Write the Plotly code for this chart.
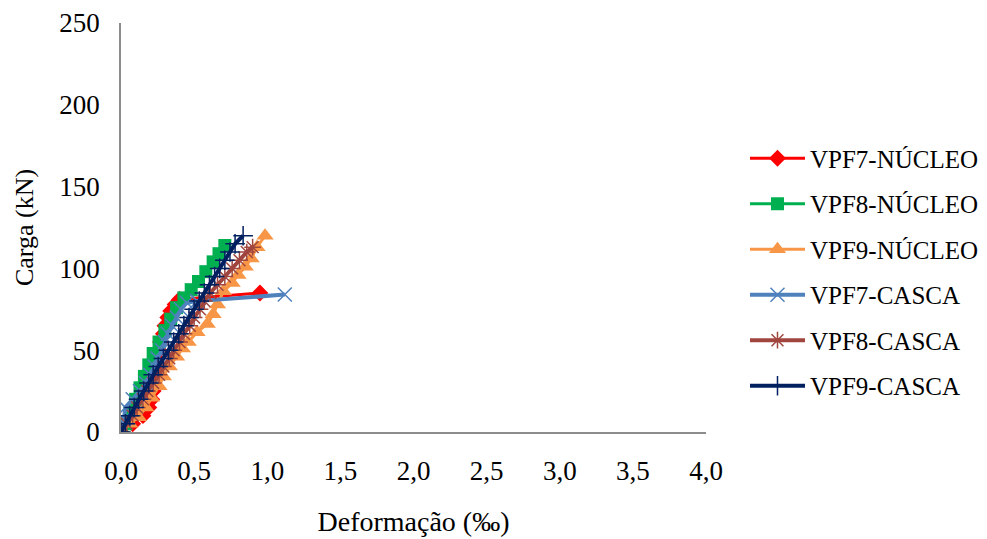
import plotly.graph_objects as go

# ---- data ----
series_names = ["VPF7-NÚCLEO", "VPF8-NÚCLEO", "VPF9-NÚCLEO",
                "VPF7-CASCA", "VPF8-CASCA", "VPF9-CASCA"]

vpf7_nucleo_x = [0, 0.08, 0.15, 0.19, 0.21, 0.22, 0.22, 0.22, 0.23, 0.24, 0.26, 0.27,
                 0.29, 0.30, 0.32, 0.34, 0.37, 0.40, 0.95]
vpf7_nucleo_y = [0, 5, 10, 15, 20, 25, 30, 35, 40, 45, 50, 55, 60, 65, 70, 74, 78, 81, 85]

vpf8_nucleo_x = [0, 0.03, 0.06, 0.10, 0.13, 0.16, 0.19, 0.22, 0.26, 0.30, 0.34, 0.38,
                 0.43, 0.48, 0.53, 0.58, 0.63, 0.67, 0.71]
vpf8_nucleo_y = [0, 5, 12, 20, 27, 34, 41, 48, 55, 62, 69, 76, 82, 87, 92, 98, 104, 109, 114]

vpf9_nucleo_x = [0, 0.06, 0.12, 0.17, 0.21, 0.26, 0.29, 0.33, 0.38, 0.42, 0.46, 0.52,
                 0.59, 0.63, 0.66, 0.70, 0.76, 0.80, 0.85, 0.89, 0.93, 0.985]
vpf9_nucleo_y = [0, 5, 9, 15, 21, 28, 34, 40, 46, 51, 55, 61, 66, 72, 78, 86, 91, 96,
                 101, 106, 113, 120]

vpf7_casca_x = [0, 0.02, 0.03, 0.08, 0.13, 0.17, 0.20, 0.23, 0.25, 0.28, 0.30, 0.32,
                0.35, 0.38, 0.41, 0.45, 0.52, 1.12]
vpf7_casca_y = [0, 8, 15, 20, 25, 30, 35, 40, 45, 50, 55, 60, 65, 70, 75, 79, 80, 84]

vpf8_casca_x = [0, 0.04, 0.08, 0.11, 0.15, 0.18, 0.22, 0.26, 0.29, 0.33, 0.36, 0.40,
                0.43, 0.47, 0.50, 0.54, 0.57, 0.61, 0.66, 0.71, 0.76, 0.81, 0.86, 0.90]
vpf8_casca_y = [0, 5, 10, 15, 20, 25, 30, 35, 40, 45, 50, 55, 60, 65, 70, 75, 80, 85,
                90, 95, 100, 105, 110, 113]

vpf9_casca_x = [0, 0.03, 0.06, 0.09, 0.12, 0.155, 0.19, 0.22, 0.255, 0.29, 0.325, 0.36,
                0.395, 0.43, 0.465, 0.50, 0.535, 0.57, 0.605, 0.64, 0.675, 0.71, 0.745,
                0.78, 0.835]
vpf9_casca_y = [0, 5, 10, 15, 20, 25, 30, 35, 40, 45, 50, 55, 60, 65, 70, 75, 80, 85,
                90, 95, 100, 105, 110, 115, 120]

x_tick_vals = [0, 0.5, 1, 1.5, 2, 2.5, 3, 3.5, 4]
x_tick_text = ["0,0", "0,5", "1,0", "1,5", "2,0", "2,5", "3,0", "3,5", "4,0"]
y_tick_vals = [0, 50, 100, 150, 200, 250]

# ---- styles ----
styles = [
    dict(color="#FF0000", symbol="diamond", size=13, lw=3),
    dict(color="#00B050", symbol="square", size=13, lw=3),
    dict(color="#F79646", symbol="triangle-up", size=15, lw=3),
    dict(color="#4F81BD", symbol="x-thin-open", size=14, lw=4),
    dict(color="#A0463F", symbol="asterisk-open", size=14, lw=4),
    dict(color="#002060", symbol="cross-thin-open", size=14, lw=4),
]
data = [
    (vpf7_nucleo_x, vpf7_nucleo_y), (vpf8_nucleo_x, vpf8_nucleo_y),
    (vpf9_nucleo_x, vpf9_nucleo_y), (vpf7_casca_x, vpf7_casca_y),
    (vpf8_casca_x, vpf8_casca_y), (vpf9_casca_x, vpf9_casca_y),
]

FONT = "Liberation Serif, Times New Roman, serif"

fig = go.Figure()
for name, (xs, ys), st in zip(series_names, data, styles):
    open_sym = st["symbol"].endswith("open")
    fig.add_trace(go.Scatter(
        x=xs, y=ys, name=name, mode="lines+markers", legendgroup=name,
        line=dict(color=st["color"], width=st["lw"]),
        marker=dict(symbol=st["symbol"], size=st["size"], color=st["color"],
                    line=dict(color=st["color"], width=1.5 if open_sym else 0)),
    ))

fig.update_layout(
    width=987, height=539,
    paper_bgcolor="white", plot_bgcolor="white",
    margin=dict(l=113, r=289, t=15, b=115),
    font=dict(family=FONT, size=26, color="black"),
    showlegend=True,
    legend=dict(xref="container", yref="container", x=0.7467, y=0.7635,
                xanchor="left", yanchor="top",
                font=dict(family=FONT, size=25, color="black"),
                tracegroupgap=10, itemwidth=55, bgcolor="rgba(0,0,0,0)"),
    xaxis=dict(range=[0, 4], tickvals=x_tick_vals, ticktext=x_tick_text,
               showgrid=False, zeroline=False, showline=True,
               tickfont=dict(family=FONT, size=27),
               linecolor="#8C8C8C", linewidth=1.5, ticks="", ticklabelstandoff=14,
               title=dict(text="Deformação (‰)", standoff=26,
                          font=dict(family=FONT, size=28))),
    yaxis=dict(range=[0, 250], tickvals=y_tick_vals,
               showgrid=False, zeroline=False, showline=True,
               tickfont=dict(family=FONT, size=27),
               linecolor="#8C8C8C", linewidth=1.5, ticks="", ticklabelstandoff=14,
               title=dict(text="Carga (kN)", standoff=18,
                          font=dict(family=FONT, size=26))),
)
fig.update_xaxes(automargin=False)
fig.update_yaxes(automargin=False)

fig.write_html("out.html")
